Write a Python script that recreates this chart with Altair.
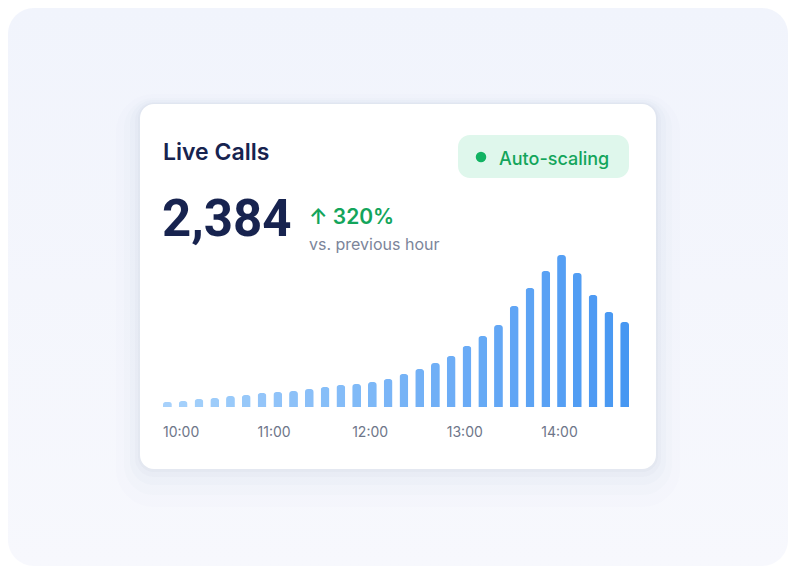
import altair as alt
import pandas as pd

# ---- data ----
times = ["10:00", "10:10", "10:20", "10:30", "10:40", "10:50",
         "11:00", "11:10", "11:20", "11:30", "11:40", "11:50",
         "12:00", "12:10", "12:20", "12:30", "12:40", "12:50",
         "13:00", "13:10", "13:20", "13:30", "13:40", "13:50",
         "14:00", "14:10", "14:20", "14:30", "14:40", "14:50"]
calls = [50, 60, 80, 90, 110, 120, 140, 150, 160, 180, 200, 220,
         230, 250, 280, 330, 380, 440, 510, 610, 710, 820, 1010, 1190,
         1360, 1520, 1340, 1120, 950, 850]
tick_labels = ["10:00", "11:00", "12:00", "13:00", "14:00"]

title_text = "Live Calls"
big_number = "2,384"
change_text = "↑ 320%"
sub_text = "vs. previous hour"
badge_text = "Auto-scaling"

FONT = "Inter"
NAVY = "#17234f"
GREEN = "#13a55b"

df = pd.DataFrame({"t": times, "calls": calls, "i": list(range(len(times)))})
lab = pd.DataFrame({"t": tick_labels})
one = alt.Data(values=[{"k": 1}])

W, H = 780, 558

# background
bg = alt.Chart(one).mark_rect(
    cornerRadius=26,
    color=alt.Gradient(gradient="linear", x1=0, x2=0, y1=0, y2=1,
                       stops=[alt.GradientStop(color="#f1f4fc", offset=0),
                              alt.GradientStop(color="#f7f8fd", offset=1)]),
).encode(x=alt.value(0), x2=alt.value(W), y=alt.value(0), y2=alt.value(H))

# card shadow (soft, mostly below)
shadows = []
for spread, dy, op in [(24, 14, 0.018), (16, 10, 0.025), (10, 6, 0.03), (5, 3, 0.04), (2, 1, 0.05)]:
    shadows.append(
        alt.Chart(one).mark_rect(cornerRadius=14 + spread, color="#8e97b6", opacity=op).encode(
            x=alt.value(132 - spread), x2=alt.value(648 + spread),
            y=alt.value(96 - spread + dy), y2=alt.value(461 + spread + dy))
    )

card = alt.Chart(one).mark_rect(cornerRadius=14, color="#ffffff").encode(
    x=alt.value(132), x2=alt.value(648), y=alt.value(96), y2=alt.value(461))

badge = alt.Chart(one).mark_rect(cornerRadius=12, color="#dff7ec").encode(
    x=alt.value(450), x2=alt.value(621), y=alt.value(127), y2=alt.value(170))

dot = alt.Chart(one).mark_point(filled=True, size=110, color="#12b363", opacity=1).encode(
    x=alt.value(473), y=alt.value(149))

def txt(s, x, y, size, weight, color, font=FONT):
    return alt.Chart(one).mark_text(
        text=s, align="left", baseline="alphabetic", font=font,
        fontSize=size, fontWeight=weight, color=color,
    ).encode(x=alt.value(x), y=alt.value(y))

t_title = txt(title_text, 155, 152, 23, 600, NAVY)
t_badge = txt(badge_text, 491, 157, 18, 500, GREEN)
t_big = txt(big_number, 154, 228, 51, 700, NAVY, font="Roboto")
t_change = txt(change_text, 301, 216, 21, 600, GREEN)
t_sub = txt(sub_text, 301, 242, 16, 400, "#7c859a")

xscale = alt.Scale(domain=times, range=[155, 621], paddingInner=0.44, paddingOuter=0)

bars = alt.Chart(df).mark_bar(cornerRadiusTopLeft=3, cornerRadiusTopRight=3, opacity=0.95).encode(
    x=alt.X("t:N", scale=xscale, axis=None, sort=times),
    y=alt.Y("calls:Q", scale=alt.Scale(domain=[0, 1520], range=[399, 247]), axis=None),
    color=alt.Color("i:Q", scale=alt.Scale(range=["#a2cffb", "#3c91f1"]), legend=None),
)

labels = alt.Chart(lab).mark_text(
    align="left", baseline="alphabetic", font=FONT, fontSize=14, color="#6e7689"
).encode(
    x=alt.X("t:N", bandPosition=0, scale=xscale, axis=None, sort=times),
    y=alt.value(429),
    text="t:N",
)

chart = alt.layer(
    bg, *shadows, card, badge, dot, t_title, t_badge, t_big, t_change, t_sub, bars, labels
).properties(
    width=W, height=H,
    autosize=alt.AutoSizeParams(type="fit", contains="padding"),
    padding=0,
    background="#ffffff",
).configure_view(stroke=None)

chart.save("out.html", embed_options={"renderer": "svg", "actions": False})
